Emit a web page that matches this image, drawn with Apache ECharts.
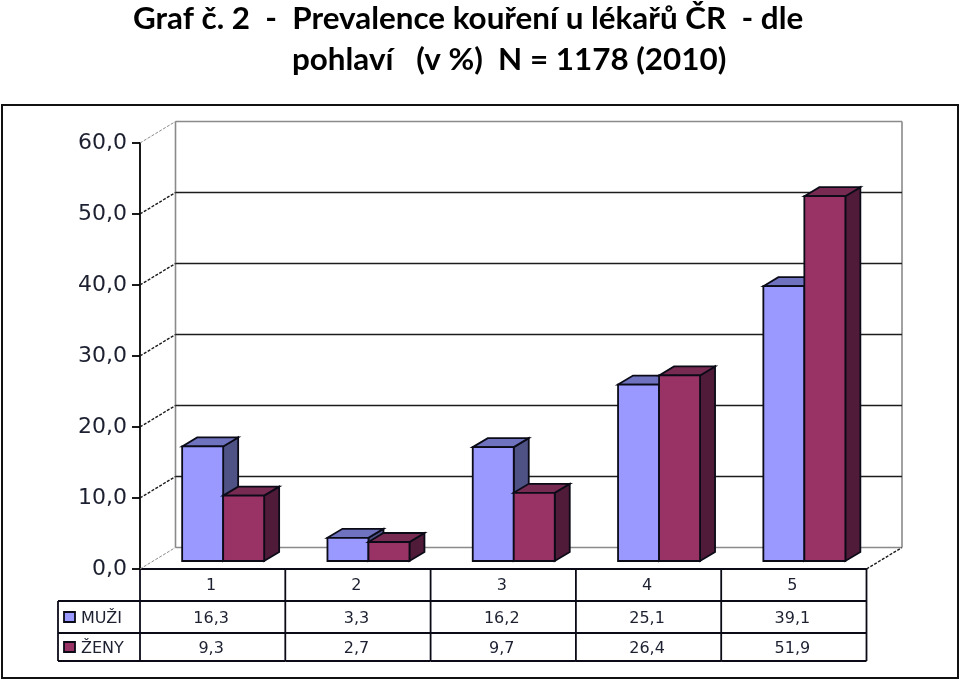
<!DOCTYPE html>
<html>
<head>
<meta charset="utf-8">
<style>html,body{margin:0;padding:0;background:#fff}#c{width:960px;height:682px}</style>
<script src="https://cdn.jsdelivr.net/npm/echarts@6/dist/echarts.min.js"></script>
</head>
<body>
<div id="c"></div>
<script>
var categories = ['1', '2', '3', '4', '5'];
var muzi = [16.3, 3.3, 16.2, 25.1, 39.1];
var zeny = [9.3, 2.7, 9.7, 26.4, 51.9];
var yTicks = [0, 10, 20, 30, 40, 50, 60];
var seriesNames = ['MUŽI', 'ŽENY'];
var titleLines = ['Graf č. 2  -  Prevalence kouření u lékařů ČR  - dle', 'pohlaví   (v %)  N = 1178 (2010)'];

var INK = '#0b0b18', TXT = '#1c2030';
var fmt = function (v) { return v.toFixed(1).replace('.', ','); };
var WALL_DX = 35.5, WALL_DY = -21.5;
var DEPTH_X = 15, DEPTH_Y = -9, BAR_W = 41, BAR_DX = 10.5, BAR_BASE = -8, BAR_SCALE = 0.99;
var ROW_Y = [601, 633, 661];
var ROW_TEXT_DY = [1.5, 2];
var TEXT_DX = -1.5;

function poly(points, fill) {
  return { type: 'polygon', shape: { points: points },
    style: { fill: fill, stroke: INK, lineWidth: 1.8, lineJoin: 'miter' } };
}
function line(x1, y1, x2, y2, color, width, dash) {
  return { type: 'line', shape: { x1: x1, y1: y1, x2: x2, y2: y2 },
    style: { stroke: color, lineWidth: width, lineDash: dash || null } };
}
function barRenderer(side, front, top, flank) {
  return function (params, api) {
    var i = api.value(0), v = api.value(1);
    var b = api.coord([i, 0]), t = api.coord([i, v]);
    var x0 = b[0] + BAR_DX + (side < 0 ? -BAR_W : 0), x1 = x0 + BAR_W;
    var yb = b[1] + BAR_BASE, yt = yb - (b[1] - t[1]) * BAR_SCALE;
    return { type: 'group', children: [
      poly([[x1, yt], [x1 + DEPTH_X, yt + DEPTH_Y], [x1 + DEPTH_X, yb + DEPTH_Y], [x1, yb]], flank),
      poly([[x0, yt], [x0 + DEPTH_X, yt + DEPTH_Y], [x1 + DEPTH_X, yt + DEPTH_Y], [x1, yt]], top),
      poly([[x0, yt], [x1, yt], [x1, yb], [x0, yb]], front)
    ]};
  };
}
function wallRenderer(params, api) {
  var v = api.value(1), p = api.coord([0, v]), cs = params.coordSys;
  var edge = v === 0 || v === 60;
  var col = edge ? '#8a8a8a' : '#1c1c1c';
  var kids = [
    line(cs.x, p[1], cs.x + WALL_DX, p[1] + WALL_DY, col, edge ? 1 : 1.4, [3, 1.5]),
    line(cs.x + WALL_DX, p[1] + WALL_DY, cs.x + cs.width + WALL_DX, p[1] + WALL_DY, col, 1.6)
  ];
  if (v === 0) {
    kids.push(line(cs.x + cs.width, p[1], cs.x + cs.width + WALL_DX, p[1] + WALL_DY, '#1c1c1c', 1.4, [3, 1.5]));
    kids.push(line(cs.x + WALL_DX, p[1] + WALL_DY, cs.x + WALL_DX, cs.y + WALL_DY, '#8a8a8a', 1.6));
    kids.push(line(cs.x + cs.width + WALL_DX, p[1] + WALL_DY, cs.x + cs.width + WALL_DX, cs.y + WALL_DY, '#8a8a8a', 1.6));
  }
  return { type: 'group', children: kids };
}
function tableRenderer(params, api) {
  var i = api.value(0), cs = params.coordSys, c = api.coord([i, 0]);
  var bandW = cs.width / categories.length;
  var kids = [];
  var right = c[0] + bandW / 2;
  kids.push(line(right, c[1], right, ROW_Y[2], INK, 1.8));
  kids.push(line(c[0] - bandW / 2, ROW_Y[0], right, ROW_Y[0], INK, 1.8));
  kids.push(line(c[0] - bandW / 2, ROW_Y[1], right, ROW_Y[1], INK, 1.8));
  kids.push(line(c[0] - bandW / 2, ROW_Y[2], right, ROW_Y[2], INK, 1.8));
  [muzi, zeny].forEach(function (arr, r) {
    kids.push({ type: 'text', style: { text: fmt(arr[i]), x: c[0] + TEXT_DX, y: (ROW_Y[r] + ROW_Y[r + 1]) / 2 + ROW_TEXT_DY[r],
      align: 'center', verticalAlign: 'middle', fill: TXT, font: '16px "DejaVu Sans"' } });
  });
  if (i === 0) {
    var lx = cs.x - 82;
    kids.push(line(lx, ROW_Y[0], cs.x, ROW_Y[0], INK, 1.8));
    kids.push(line(lx, ROW_Y[1], cs.x, ROW_Y[1], INK, 1.8));
    kids.push(line(lx, ROW_Y[2], cs.x, ROW_Y[2], INK, 1.8));
    kids.push(line(lx, ROW_Y[0], lx, ROW_Y[2], INK, 1.8));
    kids.push(line(cs.x, c[1], cs.x, ROW_Y[2], INK, 1.8));
    ['#9999FF', '#993366'].forEach(function (col, r) {
      var my = (ROW_Y[r] + ROW_Y[r + 1]) / 2;
      kids.push({ type: 'rect', shape: { x: lx + 6, y: my - 5, width: 11, height: 10 },
        style: { fill: col, stroke: INK, lineWidth: 1.8 } });
      kids.push({ type: 'text', style: { text: seriesNames[r], x: lx + 23, y: my + ROW_TEXT_DY[r],
        align: 'left', verticalAlign: 'middle', fill: TXT, font: '16px "DejaVu Sans"' } });
    });
  }
  return { type: 'group', children: kids };
}

var chart = echarts.init(document.getElementById('c'), null, { renderer: 'canvas' });
chart.setOption({
  animation: false,
  backgroundColor: '#fff',
  title: [
    { text: titleLines[0], left: 133, top: 3, padding: 0, textStyle: { fontFamily: 'Lato', fontWeight: 'bold', fontSize: 31.4, color: '#000' } },
    { text: titleLines[1], left: 292, top: 44, padding: 0, textStyle: { fontFamily: 'Lato', fontWeight: 'bold', fontSize: 31.4, color: '#000' } }
  ],
  grid: { left: 140, top: 143, width: 726.5, height: 426 },
  xAxis: {
    type: 'category', data: categories,
    axisLine: { show: true, lineStyle: { color: INK, width: 1.8 } },
    axisTick: { show: false },
    axisLabel: { margin: 9, padding: [0, 3, 0, 0], fontFamily: 'DejaVu Sans', fontSize: 16, color: TXT },
    splitLine: { show: false }
  },
  yAxis: {
    type: 'value', min: 0, max: 60, interval: 10,
    axisLine: { show: true, lineStyle: { color: '#000', width: 1.8 } },
    axisTick: { show: true, length: 8, lineStyle: { color: '#000', width: 1.8 } },
    axisLabel: { margin: 13, padding: [6, 0, 0, 0], fontFamily: 'DejaVu Sans', fontSize: 22, color: TXT, formatter: fmt },
    splitLine: { show: false }
  },
  series: [
    { type: 'custom', name: 'walls', z: 1, silent: true, renderItem: wallRenderer, clip: false,
      data: yTicks.map(function (v) { return [0, v]; }) },
    { type: 'custom', name: seriesNames[0], z: 3, renderItem: barRenderer(-1, '#9999FF', '#6F73BF', '#4F5285'), clip: false,
      data: muzi.map(function (v, i) { return [i, v]; }) },
    { type: 'custom', name: seriesNames[1], z: 4, renderItem: barRenderer(1, '#993366', '#772A52', '#4F1B38'), clip: false,
      data: zeny.map(function (v, i) { return [i, v]; }) },
    { type: 'custom', name: 'table', z: 2, silent: true, renderItem: tableRenderer, clip: false,
      data: categories.map(function (c, i) { return [i, 0]; }) }
  ],
  graphic: [
    { type: 'rect', z: -10, shape: { x: 2, y: 105, width: 956, height: 573 },
      style: { fill: 'none', stroke: '#111', lineWidth: 2 } }
  ]
});
</script>
</body>
</html>
